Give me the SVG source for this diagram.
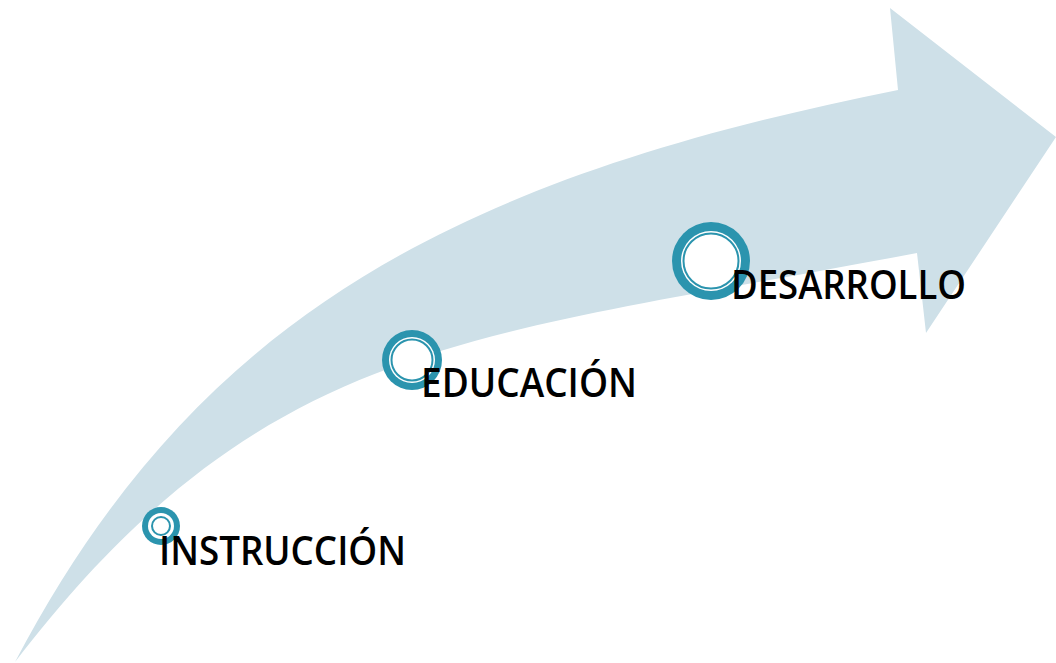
<svg xmlns="http://www.w3.org/2000/svg" width="1056" height="663" viewBox="0 0 1056 663">
<style>
.arrow{fill:#CEE0E8;stroke:none}
.ringo{fill:#2B94AE}
.gap{fill:#FFFFFF}
.ringi{fill:#FFFFFF;stroke:#2B94AE}
.lbl{font-family:"Open Sans","Liberation Sans",sans-serif;font-size:39px;font-weight:600;fill:#000000}
</style>
<rect width="1056" height="663" fill="#FFFFFF"/>
<g id="connectors">
<path class="arrow" d="M15,662 C195,320 448,180 898,90 L890,8 L1056,137 L926,333 L917,253 C467,338.5 265,337 15,662 Z"/>
</g>
<g id="node-instruccion">
<circle class="ringo" cx="161" cy="526" r="19"/>
<circle class="gap" cx="161" cy="526" r="13"/>
<circle class="ringi" cx="161" cy="526" r="9" stroke-width="2"/>
<text class="lbl" x="159" y="565" textLength="247" lengthAdjust="spacingAndGlyphs">INSTRUCCIÓN</text>
</g>
<g id="node-educacion">
<circle class="ringo" cx="412" cy="360" r="30"/>
<circle class="gap" cx="412" cy="360" r="23"/>
<circle class="ringi" cx="412" cy="360" r="20.5" stroke-width="2"/>
<text class="lbl" x="421" y="397" textLength="216" lengthAdjust="spacingAndGlyphs">EDUCACIÓN</text>
</g>
<g id="node-desarrollo">
<circle class="ringo" cx="711" cy="261" r="39"/>
<circle class="gap" cx="711" cy="261" r="30"/>
<circle class="ringi" cx="711" cy="261" r="27.5" stroke-width="2"/>
<text class="lbl" x="731" y="299" textLength="235" lengthAdjust="spacingAndGlyphs">DESARROLLO</text>
</g>
</svg>
